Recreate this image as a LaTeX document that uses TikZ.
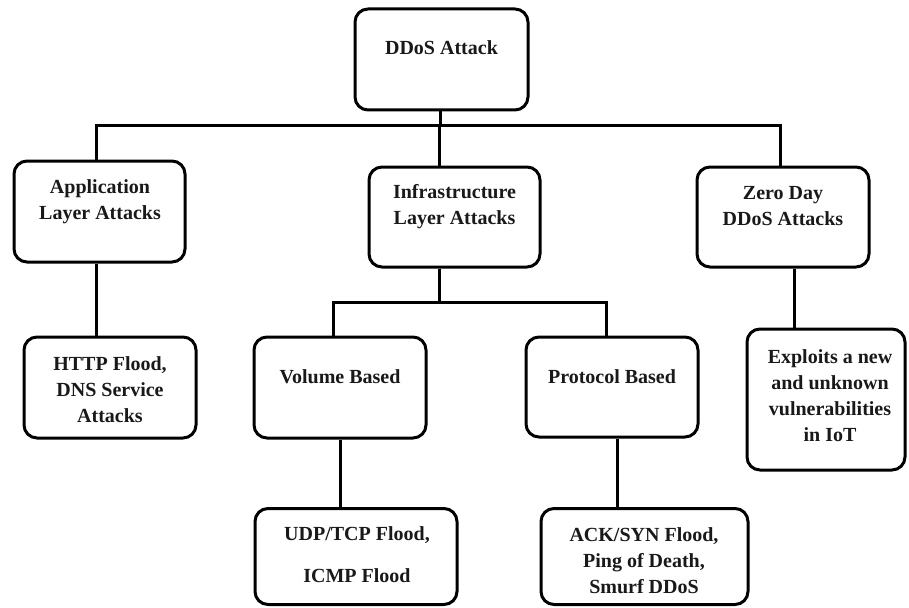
\documentclass[tikz,border=0pt]{standalone}
\usepackage{fontspec}
\setmainfont{Liberation Serif}
\begin{document}
\begin{tikzpicture}[x=1pt,y=-1pt,
  box/.style={draw=black, line width=3pt, rounded corners=13pt, inner sep=0pt, fill=white},
  lbl/.style={font=\bfseries\fontsize{20}{26}\selectfont, align=center, inner sep=0pt, text=black!90},
  link/.style={draw=black, line width=3pt}]
\useasboundingbox (0,0) rectangle (909,607);

% boxes
\node[box, minimum width=173pt, minimum height=101pt] (top)   at (441.5,59.5) {};
\node[box, minimum width=171pt, minimum height=101pt] (app)   at (99.5,211.5) {};
\node[box, minimum width=171pt, minimum height=100pt] (infra) at (454.5,217) {};
\node[box, minimum width=172pt, minimum height=100pt] (zero)  at (783,217) {};
\node[box, minimum width=172pt, minimum height=101pt] (http)  at (110,387.5) {};
\node[box, minimum width=172pt, minimum height=101pt] (vol)   at (340,387.5) {};
\node[box, minimum width=172pt, minimum height=100pt] (prot)  at (612,387) {};
\node[box, minimum width=158pt, minimum height=141pt] (expl)  at (826,399.5) {};
\node[box, minimum width=202pt, minimum height=96pt]  (udp)   at (356,556.5) {};
\node[box, minimum width=207pt, minimum height=96pt]  (ack)   at (644.5,556.5) {};

% texts
\node[lbl] (ttop)   at (441.5,48) {DDoS Attack};
\node[lbl] (tapp)   at (100,202) {Application\\Layer Attacks};
\node[lbl] (tinfra) at (454.5,207) {Infrastructure\\Layer Attacks};
\node[lbl] (tzero)  at (783,206.5) {Zero Day\\DDoS Attacks};
\node[lbl] (thttp)  at (110,390) {HTTP Flood,\\DNS Service\\Attacks};
\node[lbl] (tvol)   at (340,377) {Volume Based};
\node[lbl] (tprot)  at (612,377) {Protocol Based};
\node[lbl] (texpl)  at (830,396) {Exploits a new\\and unknown\\vulnerabilities\\in IoT};
\node[lbl] (tudp)   at (357,555) {UDP/TCP Flood,\\[16pt]ICMP Flood};
\node[lbl] (tack)   at (644,561) {ACK/SYN Flood,\\Ping of Death,\\Smurf DDoS};

% junctions of the upper and lower buses
\coordinate (jT) at (440,125);
\coordinate (jA) at (96,125);
\coordinate (jI) at (439,125);
\coordinate (jZ) at (780,125);
\coordinate (kI) at (439,302);
\coordinate (kV) at (333,302);
\coordinate (kP) at (606,302);
% drop points below the second-level boxes
\coordinate (dP) at (617,0);
\coordinate (dZ) at (794,0);

% connectors
\draw[link] (top.south -| jT) -- (jT);
\draw[link] (app.north -| jA) |- (jZ) -- (zero.north -| jZ);
\draw[link] (jI) -- (infra.north -| jI);
\draw[link] (app.south -| jA) -- (http.north -| jA);
\draw[link] (infra.south -| kI) -- (kI);
\draw[link] (vol.north -| kV) |- (kP) -- (prot.north -| kP);
\draw[link] (vol.south) -- (udp.north -| vol.south);
\draw[link] (prot.south -| dP) -- (ack.north -| dP);
\draw[link] (zero.south -| dZ) -- (expl.north -| dZ);
\end{tikzpicture}
\end{document}
